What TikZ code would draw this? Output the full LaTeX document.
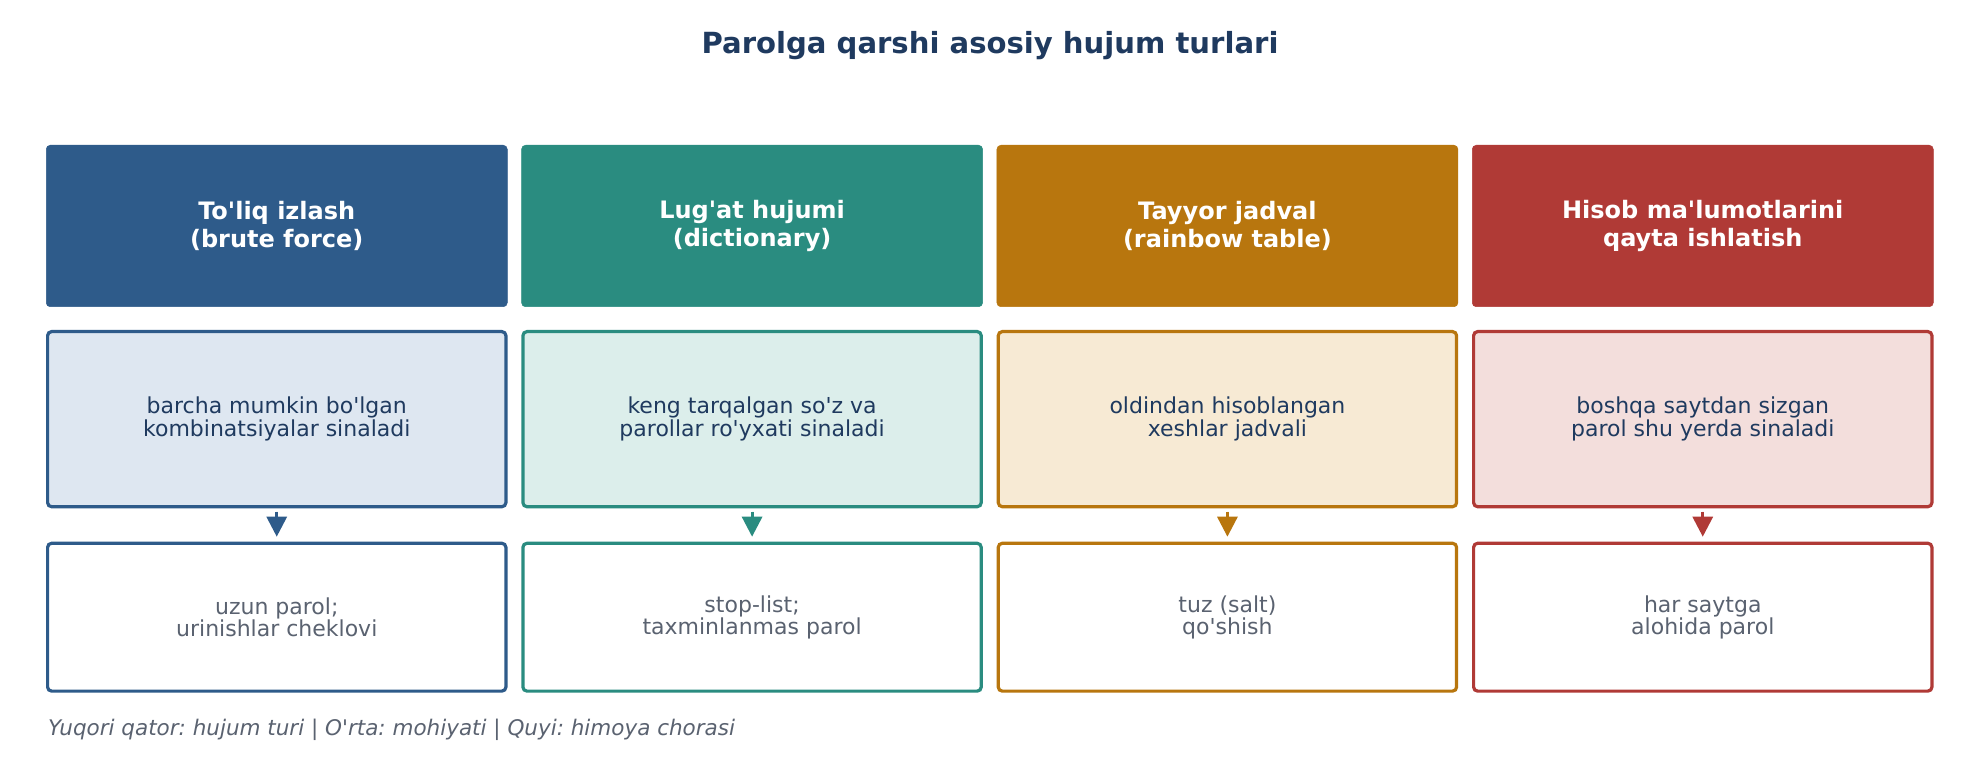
\documentclass[tikz,border=0pt]{standalone}
\usepackage{fontspec}
\newfontfamily\dv{DejaVu Sans}
\usetikzlibrary{arrows.meta}
\definecolor{navy}{HTML}{1F3A5F}
\definecolor{gry}{HTML}{5A6270}
\definecolor{cA}{HTML}{2E5B8A}
\definecolor{lA}{HTML}{DEE7F1}
\definecolor{cB}{HTML}{2A8C80}
\definecolor{lB}{HTML}{DCEEEB}
\definecolor{cC}{HTML}{B8760E}
\definecolor{lC}{HTML}{F7EAD4}
\definecolor{cD}{HTML}{B03A36}
\definecolor{lD}{HTML}{F3DEDC}
\frenchspacing
\begin{document}
\begin{tikzpicture}[x=1pt,y=-1pt,
  headbox/.style={rectangle, rounded corners=4pt, fill=#1, draw=#1, line width=0.5pt,
    minimum width=461pt, minimum height=161.5pt, inner sep=0pt, align=center,
    text=white, font=\dv\bfseries\fontsize{24}{28}\selectfont},
  midbox/.style={rectangle, rounded corners=4pt, draw=#1, line width=3.2pt,
    minimum width=458.3pt, minimum height=175.1pt, inner sep=0pt, align=center,
    text=navy, font=\dv\fontsize{22}{23}\selectfont},
  botbox/.style={rectangle, rounded corners=4pt, draw=#1, fill=white, line width=3.2pt,
    minimum width=458.3pt, minimum height=147.8pt, inner sep=0pt, align=center,
    text=gry, font=\dv\fontsize{22}{22.5}\selectfont},
  arr/.style={draw=#1, line width=3pt, -{Triangle[width=20pt,length=20pt]},
    fill=#1, shorten <=3.4pt, shorten >=5pt}
]
\useasboundingbox (0,0) rectangle (1979,759);
\fill[white] (0,0) rectangle (1979,759);

\node[anchor=base, inner sep=0pt, text=navy, font=\dv\bfseries\fontsize{29.1}{32}\selectfont] (title) at (990,53.3) {Parolga qarshi asosiy hujum turlari};

% column 1
\node[headbox=cA] (h1) at (276.75,226) {To'liq izlash\\(brute force)};
\node[midbox=cA, fill=lA] (m1) at (276.75,419.15) {barcha mumkin bo'lgan\\kombinatsiyalar sinaladi};
\node[botbox=cA] (b1) at (276.75,617.2) {uzun parol;\\urinishlar cheklovi};
% column 2
\node[headbox=cB] (h2) at (752.08,226) {Lug'at hujumi\\(dictionary)};
\node[midbox=cB, fill=lB] (m2) at (752.08,419.15) {keng tarqalgan so'z va\\parollar ro'yxati sinaladi};
\node[botbox=cB] (b2) at (752.08,617.2) {stop-list;\\taxminlanmas parol};
% column 3
\node[headbox=cC] (h3) at (1227.42,226) {Tayyor jadval\\(rainbow table)};
\node[midbox=cC, fill=lC] (m3) at (1227.42,419.15) {oldindan hisoblangan\\xeshlar jadvali};
\node[botbox=cC] (b3) at (1227.42,617.2) {tuz (salt)\\qo'shish};
% column 4
\node[headbox=cD] (h4) at (1702.75,226) {Hisob ma'lumotlarini\\qayta ishlatish};
\node[midbox=cD, fill=lD] (m4) at (1702.75,419.15) {boshqa saytdan sizgan\\parol shu yerda sinaladi};
\node[botbox=cD] (b4) at (1702.75,617.2) {har saytga\\alohida parol};

\draw[arr=cA] (m1.south) -- (b1.north);
\draw[arr=cB] (m2.south) -- (b2.north);
\draw[arr=cC] (m3.south) -- (b3.north);
\draw[arr=cD] (m4.south) -- (b4.north);

\node[anchor=base west, inner sep=0pt, text=gry, font=\dv\itshape\fontsize{21.5}{24}\selectfont] (note) at (48,735) {Yuqori qator: hujum turi | O'rta: mohiyati | Quyi: himoya chorasi};
\end{tikzpicture}
\end{document}
